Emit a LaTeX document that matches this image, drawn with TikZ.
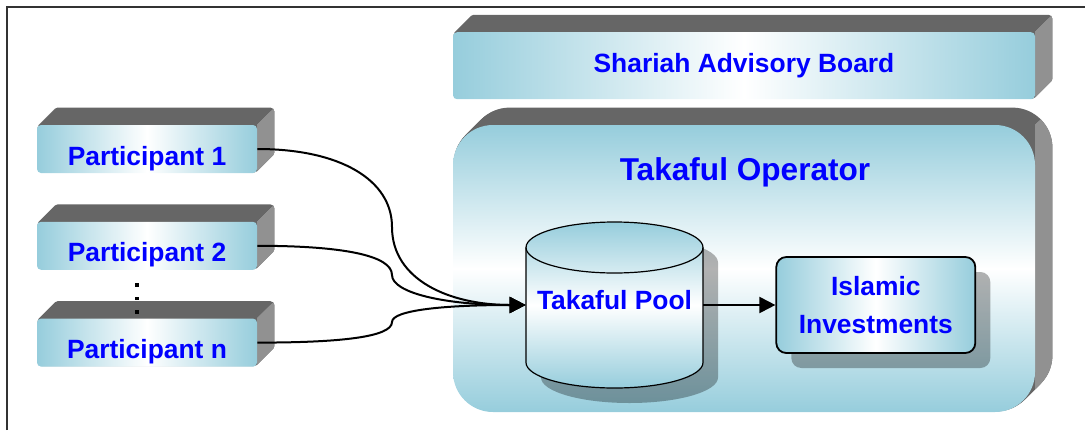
\documentclass[tikz,border=0pt]{standalone}
\usepackage{fontspec}
\setmainfont{Liberation Sans}
\usetikzlibrary{arrows.meta, positioning, shadows, backgrounds}
\definecolor{PoolBlue}{RGB}{150,205,220}
\definecolor{TextBlue}{RGB}{0,0,255}
\definecolor{TopGray}{RGB}{102,102,102}
\definecolor{SideGray}{RGB}{145,145,145}
\definecolor{FrameGray}{RGB}{51,51,51}

\begin{document}
\begin{tikzpicture}[x=0.5pt, y=0.5pt,
    face/.style={rectangle, inner sep=0pt, text=TextBlue, font=\fontsize{13.2}{19}\selectfont\bfseries, align=center},
    hface/.style={face, left color=PoolBlue, right color=PoolBlue, middle color=white},
    partybox/.style={hface, rounded corners=2pt, minimum width=110pt, minimum height=24pt, text height=16pt, text depth=0pt},
    boardbox/.style={hface, rounded corners=2pt, minimum width=291pt, minimum height=33.5pt},
    operatorbox/.style={face, top color=PoolBlue, bottom color=PoolBlue, middle color=white, rounded corners=20pt, minimum width=291pt, minimum height=143.5pt},
    title/.style={text=TextBlue, font=\fontsize{15.8}{19}\selectfont\bfseries},
    poolbox/.style={face, minimum width=88.5pt, minimum height=83pt, text height=4.5pt, text depth=0pt},
    drum/.style={draw=black, line width=0.6pt, top color=PoolBlue, bottom color=PoolBlue, middle color=white},
    drumshadow/.style={fill=black, opacity=0.3},
    investbox/.style={hface, draw=black, line width=0.9pt, rounded corners=5pt, minimum width=99.5pt, minimum height=48pt, general shadow={fill=black, opacity=0.3, shadow xshift=7.5pt, shadow yshift=-7.5pt}},
    flow/.style={-{Triangle[length=8pt, width=8pt]}, line width=1pt},
    topface/.style={fill=TopGray},
    sideface/.style={fill=SideGray},
    dot/.style={fill=black}
  ]
  \useasboundingbox (0,0) rectangle (1085,430);

  % participants
  \node (p1) [partybox] at (147,281) {Participant 1};
  \node (p2) [partybox, below=24pt of p1] {Participant 2};
  \node (pn) [partybox, below=24pt of p2] {Participant n};

  % operator and board
  \node (operator) [operatorbox] at (744,161.5) {};
  \node (board) [boardbox, above=12.5pt of operator] {Shariah Advisory Board};
  \node (optitle) [title] at (745,258) {Takaful Operator};

  % pool drum
  \begin{scope}[shift={(15,-15)}]
    \fill[drumshadow] (526,182.5) -- (526,67.5) arc (180:360:44.25pt and 12.75pt) -- (703,182.5) arc (0:180:44.25pt and 12.75pt) -- cycle;
  \end{scope}
  \draw[drum] (526,182.5) -- (526,67.5) arc (180:360:44.25pt and 12.75pt) -- (703,182.5) arc (0:180:44.25pt and 12.75pt) -- cycle;
  \draw[line width=0.6pt] (526,182.5) arc (180:360:44.25pt and 12.75pt);

  % pool and investments
  \node (pool) [poolbox] at (614.5,125) {Takaful Pool};
  \node (invest) [investbox, right=36pt of pool] {Islamic\\Investments};

  % 3d sides
  \begin{scope}[on background layer]
    \foreach \b/\r in {p1/2pt, p2/2pt, pn/2pt, board/2pt, operator/20pt} {
      \foreach \i in {1,...,17}
        \fill[topface, rounded corners=\r] ([shift={(\i,\i)}]\b.south west) rectangle ([shift={(\i,\i)}]\b.north east);
      \begin{scope}
        \clip (\b.north east) -- ++(40,40) -- ++(0,-600) -- ++(-40,0) -- cycle;
        \foreach \i in {1,...,17}
          \fill[sideface, rounded corners=\r] ([shift={(\i,\i)}]\b.south west) rectangle ([shift={(\i,\i)}]\b.north east);
      \end{scope}
    }
  \end{scope}

  \draw[flow] (p1.east) .. controls +(83,0) and +(0,47) .. (392,203) .. controls +(0,-53) and +(-76,0) .. (pool.west);
  \draw[flow] (p2.east) .. controls +(83,0) and +(0,20) .. (392,155) .. controls +(0,-18) and +(-80,0) .. (pool.west);
  \draw[flow] (pn.east) .. controls +(83,0) and +(0,-15) .. (392,108) .. controls +(0,12) and +(-80,0) .. (pool.west);
  \draw[flow] (pool.east) -- (invest.west);

  \foreach \y in {118,131.5,145}
    \fill[dot] (137,\y) +(-1.75,-1.75) rectangle +(1.75,1.75);

  % frame
  \draw[FrameGray, line width=1.2pt] (7,0) -- (7,423) -- (1085,423);
\end{tikzpicture}
\end{document}
